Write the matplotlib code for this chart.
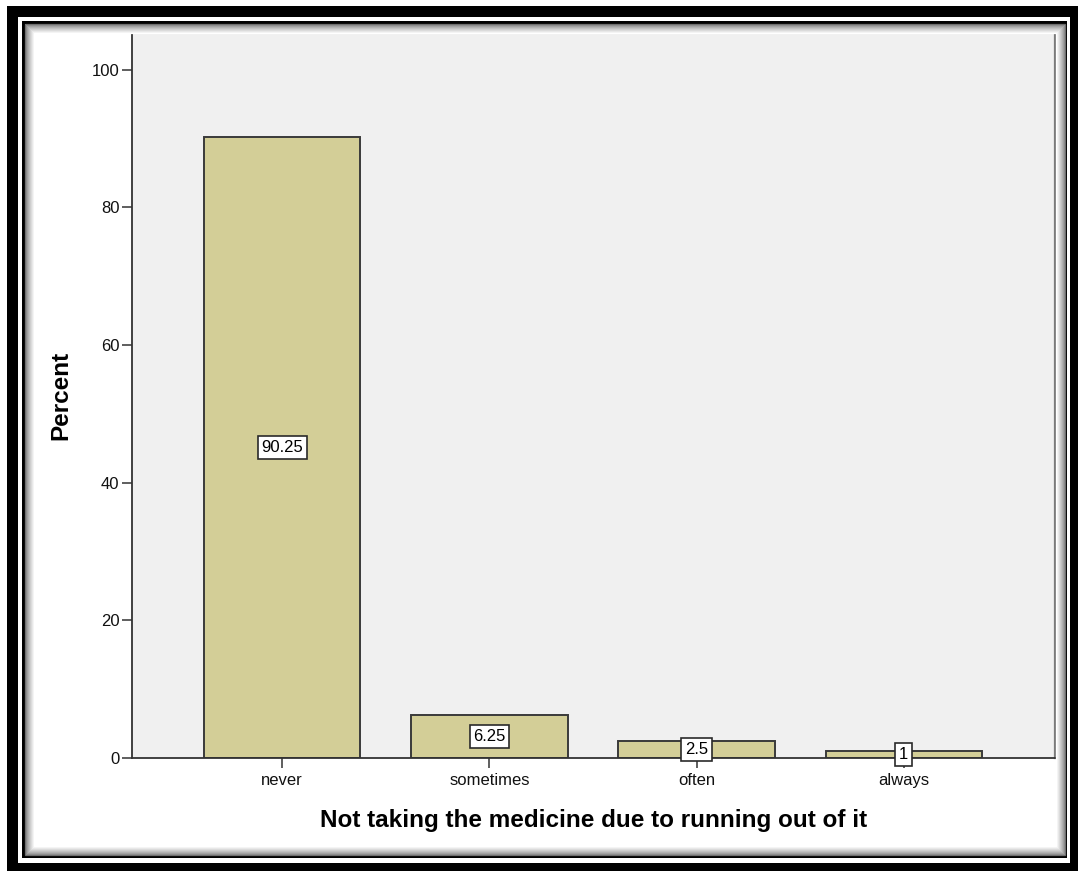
import matplotlib.pyplot as plt
from matplotlib.patches import Rectangle

categories = ['never', 'sometimes', 'often', 'always']
percent = [90.25, 6.25, 2.5, 1]
value_labels = ['90.25', '6.25', '2.5', '1']
y_ticks = [0, 20, 40, 60, 80, 100]

W, H = 1078, 871
plt.rcParams['font.family'] = ['Liberation Sans', 'DejaVu Sans']

fig = plt.figure(figsize=(W / 100, H / 100), dpi=100)
fig.patch.set_facecolor('white')


def px_rect(x0, y0, x1, y1, **kw):
    # rectangle given in pixel coords measured from the top-left corner
    r = Rectangle((x0 / W, 1 - y1 / H), (x1 - x0) / W, (y1 - y0) / H,
                  transform=fig.transFigure, **kw)
    fig.add_artist(r)
    return r


# heavy black outer frame, thin inner line, soft inner shadow
px_rect(7, 6, 1078, 871, facecolor='black', edgecolor='none', zorder=0)
px_rect(18, 17, 1070, 863, facecolor='white', edgecolor='none', zorder=0)
px_rect(22, 21, 1067, 858, facecolor='black', edgecolor='none', zorder=0)
px_rect(25, 24, 1065, 855, facecolor='white', edgecolor='none', zorder=0)
for i in range(10):
    g = 0.42 + 0.58 * (i / 9) ** 0.7
    px_rect(25 + i, 24 + i, 1065 - i, 855 - i, facecolor='none',
            edgecolor=(g, g, g), lw=0.9, zorder=0.5)

ax_l, ax_r, ax_t, ax_b = 132, 1055, 32, 758
ax = fig.add_axes([ax_l / W, 1 - ax_b / H, (ax_r - ax_l) / W, (ax_b - ax_t) / H])
ax.set_facecolor('#F0F0F0')

x = range(len(categories))
ax.bar(x, percent, width=0.755, color='#D3CE97', edgecolor='#3A3A3A',
       linewidth=1.4, zorder=2)

for xi, v, s in zip(x, percent, value_labels):
    ax.text(xi, v / 2, s, ha='center', va='center', fontsize=12, zorder=4,
            bbox=dict(boxstyle='square,pad=0.22', facecolor='white',
                      edgecolor='#2A2A2A', linewidth=1.2))

ax.set_xlim(-0.725, 3.73)
ax.set_ylim(0, 105.5)
ax.set_yticks(y_ticks)
ax.set_xticks(list(x))
ax.set_xticklabels(categories)
ax.tick_params(axis='both', direction='out', length=7.5, width=1.1,
               color='#333333', labelsize=12, labelcolor='#111111', pad=1.5)
ax.tick_params(axis='x', pad=3)

for side in ['left', 'bottom']:
    ax.spines[side].set_color('#333333')
    ax.spines[side].set_linewidth(1.3)
for side in ['top', 'right']:
    ax.spines[side].set_color('#7A7A7A')
    ax.spines[side].set_linewidth(1.6)

aw, ah = ax_r - ax_l, ax_b - ax_t
ax.set_xlabel('Not taking the medicine due to running out of it',
              fontsize=17.5, fontweight='bold', va='center')
ax.xaxis.set_label_coords(0.5, (ax_b - 820) / ah)
ax.set_ylabel('Percent', fontsize=17.5, fontweight='bold', va='center')
ax.yaxis.set_label_coords((61 - ax_l) / aw, 0.5)

fig.savefig('out.png', dpi=100)
